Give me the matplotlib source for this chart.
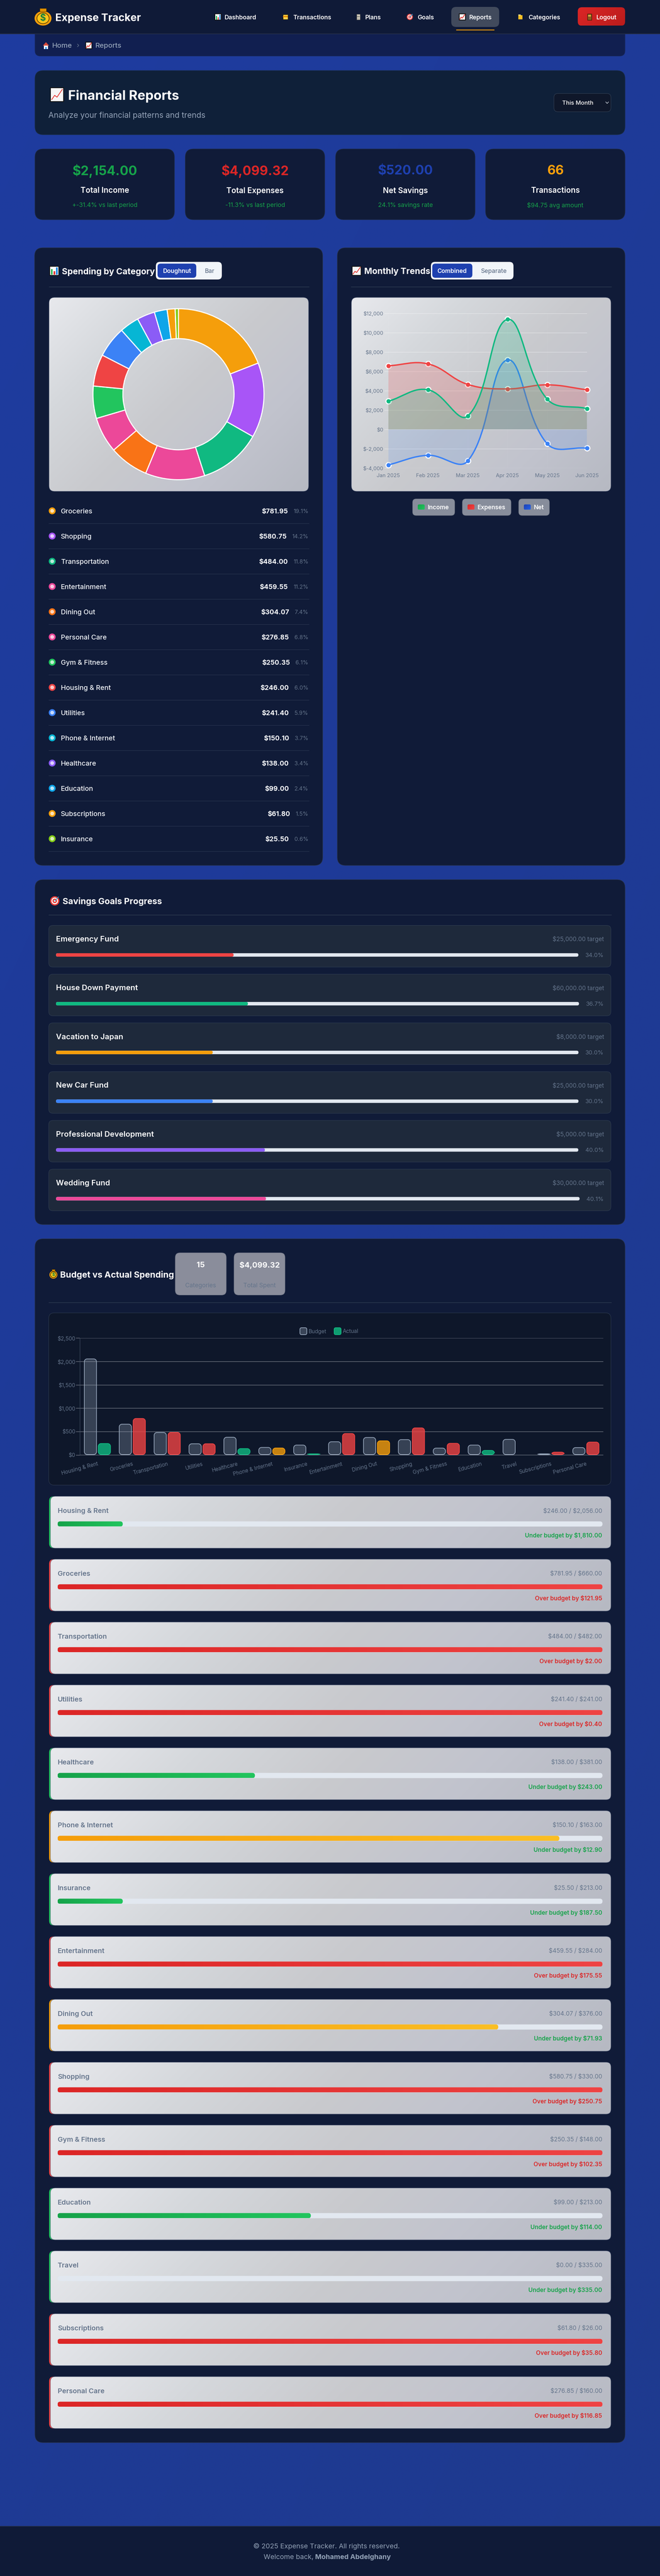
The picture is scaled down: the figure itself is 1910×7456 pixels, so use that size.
import numpy as np
import matplotlib
matplotlib.use('Agg')
import matplotlib.pyplot as plt
from matplotlib.patches import FancyBboxPatch, Circle, Ellipse, Rectangle, Polygon, PathPatch
from matplotlib.path import Path
from matplotlib.colors import to_rgb

plt.rcParams['font.family'] = ['Inter', 'Noto Sans', 'DejaVu Sans']

# ---------------------------------------------------------------- data
nav_items = ['Dashboard', 'Transactions', 'Plans', 'Goals', 'Reports', 'Categories']
stat_values = ['$2,154.00', '$4,099.32', '$520.00', '66']
stat_labels = ['Total Income', 'Total Expenses', 'Net Savings', 'Transactions']
stat_subs = ['+-31.4% vs last period', '-11.3% vs last period', '24.1% savings rate', '$94.75 avg amount']
stat_colors = ['#16a34a', '#dc2626', '#1e40af', '#f59e0b']

share_names = ['Groceries', 'Shopping', 'Transportation', 'Entertainment', 'Dining Out', 'Personal Care',
               'Gym & Fitness', 'Housing & Rent', 'Utilities', 'Phone & Internet', 'Healthcare', 'Education',
               'Subscriptions', 'Insurance']
share_values = [781.95, 580.75, 484.00, 459.55, 304.07, 276.85, 250.35, 246.00, 241.40, 150.10, 138.00, 99.00,
                61.80, 25.50]
share_pcts = ['19.1%', '14.2%', '11.8%', '11.2%', '7.4%', '6.8%', '6.1%', '6.0%', '5.9%', '3.7%', '3.4%', '2.4%',
              '1.5%', '0.6%']
share_colors = ['#f59e0b', '#a855f7', '#10b981', '#ec4899', '#f97316', '#ec4899', '#22c55e', '#ef4444', '#3b82f6',
                '#06b6d4', '#8b5cf6', '#0ea5e9', '#f59e0b', '#84cc16']

months = ['Jan 2025', 'Feb 2025', 'Mar 2025', 'Apr 2025', 'May 2025', 'Jun 2025']
income = [2911, 4098, 1393, 11369, 3136, 2154]
expenses = [6577, 6772, 4654, 4188, 4608, 4099]
net = [-3666, -2674, -3261, 7181, -1472, -1945]
trend_ticks = [-4000, -2000, 0, 2000, 4000, 6000, 8000, 10000, 12000]
trend_tick_labels = ['$-4,000', '$-2,000', '$0', '$2,000', '$4,000', '$6,000', '$8,000', '$10,000', '$12,000']

goal_names = ['Emergency Fund', 'House Down Payment', 'Vacation to Japan', 'New Car Fund',
              'Professional Development', 'Wedding Fund']
goal_targets = ['$25,000.00', '$60,000.00', '$8,000.00', '$25,000.00', '$5,000.00', '$30,000.00']
goal_pcts = [34.0, 36.7, 30.0, 30.0, 40.0, 40.1]
goal_colors = ['#ef4444', '#10b981', '#f59e0b', '#3b82f6', '#8b5cf6', '#ec4899']

budget_names = ['Housing & Rent', 'Groceries', 'Transportation', 'Utilities', 'Healthcare', 'Phone & Internet',
                'Insurance', 'Entertainment', 'Dining Out', 'Shopping', 'Gym & Fitness', 'Education', 'Travel',
                'Subscriptions', 'Personal Care']
budget_spent = [246.00, 781.95, 484.00, 241.40, 138.00, 150.10, 25.50, 459.55, 304.07, 580.75, 250.35, 99.00, 0.00,
                61.80, 276.85]
budget_limit = [2056, 660, 482, 241, 381, 163, 213, 284, 376, 330, 148, 213, 335, 26, 160]
budget_ticks = [0, 500, 1000, 1500, 2000, 2500]
budget_tick_labels = ['$0', '$500', '$1,000', '$1,500', '$2,000', '$2,500']

# ---------------------------------------------------------------- canvas helpers
W, H = 1910, 7456
fig = plt.figure(figsize=(W / 100, H / 100), dpi=100)
bg = fig.add_axes([0, 0, 1, 1])
bg.set_xlim(0, W)
bg.set_ylim(H, 0)
bg.axis('off')
bg.set_autoscale_on(False)
Z = [1]
renderer = fig.canvas.get_renderer()


def nz():
    Z[0] += 1
    return Z[0]


def fit(s, weight, width):
    """font size in pixels at which the string has the given width"""
    t = bg.text(0, 0, s, fontsize=20, fontweight=weight, parse_math=False)
    w = t.get_window_extent(renderer).width
    t.remove()
    return 20 / 0.72 * width / w


def rr(x, y, w, h, r, fc, ec='none', lw=0, alpha=None):
    r = min(r, w / 2, h / 2)
    p = FancyBboxPatch((x + r, y + r), w - 2 * r, h - 2 * r, boxstyle=f'round,pad={r},rounding_size={r}',
                       fc=fc, ec=ec, lw=lw * 0.72, alpha=alpha, zorder=nz())
    bg.add_patch(p)
    return p


def grad(x, y, w, h, r, stops, angle=135, ec='none', lw=0):
    n = 96
    xx, yy = np.meshgrid((np.arange(n) + .5) / n, (np.arange(n) + .5) / n)
    a = np.deg2rad(angle)
    sx, sy = np.sin(a), -np.cos(a)
    L = abs(w * sx) + abs(h * sy)
    t = ((xx - .5) * w * sx + (yy - .5) * h * sy) / L + .5
    cols = np.array([to_rgb(c) for c in stops])
    pos = np.linspace(0, 1, len(stops))
    arr = np.dstack([np.interp(t, pos, cols[:, i]) for i in range(3)])
    clip = rr(x, y, w, h, r, 'none')
    im = bg.imshow(arr, extent=[x, x + w, y + h, y], aspect='auto', interpolation='bilinear', zorder=nz())
    im.set_clip_path(clip)
    if lw:
        rr(x, y, w, h, r, 'none', ec=ec, lw=lw)


def T(x, y, s, px, color, weight='normal', ha='left', va='center_baseline', **kw):
    return bg.text(x, y, s, fontsize=px * 0.72, color=color, fontweight=weight, ha=ha, va=va, zorder=nz(),
                   parse_math=False, **kw)


def text_left(t):
    return t.get_window_extent(renderer).x0


def add(p):
    p.set_zorder(nz())
    bg.add_patch(p)
    return p


# ---------------------------------------------------------------- icons (emoji drawn with patches)
def ic_chart(x, y, s):
    add(Rectangle((x, y), s, s, fc='#ffffff', ec='#111111', lw=1.4))
    for fx, fh, c in [(.14, .62, '#16b34a'), (.42, .4, '#e53935'), (.70, .82, '#1e88e5')]:
        add(Rectangle((x + fx * s, y + s * (.93 - fh)), s * .18, s * fh, fc=c, ec='none'))


def ic_line(x, y, w, h):
    add(Rectangle((x, y), w, h, fc='#f5f5f5', ec='#111111', lw=1.6))
    bg.plot([x + .1 * w, x + .32 * w, x + .5 * w, x + .9 * w], [y + .85 * h, y + .55 * h, y + .68 * h, y + .12 * h],
            color='#e53935', lw=1.6, zorder=nz())


def ic_target(x, y, s):
    c = (x + s / 2, y + s / 2)
    for rad, col in [(.5, '#e53935'), (.36, '#ffffff'), (.24, '#e53935'), (.11, '#ffffff')]:
        add(Circle(c, s * rad, fc=col, ec='none'))
    bg.plot([x + .5 * s, x + .9 * s], [y + .5 * s, y + .08 * s], color='#29a9e0', lw=1.4, zorder=nz())


def ic_bag(x, y, w, h, fs):
    add(Ellipse((x + w / 2, y + h * .58), w, h * .84, fc='#f59e0b', ec='none'))
    add(Ellipse((x + w / 2, y + h * .58), w * .72, h * .62, fc='#fcc419', ec='#4a3200', lw=1.2))
    add(Rectangle((x + w * .3, y), w * .4, h * .2, fc='#e09000', ec='#4a3200', lw=.8))
    T(x + w / 2, y + h * .58, '$', fs, '#15803d', 'bold', ha='center', va='center')


def ic_house(x, y, w, h):
    add(Rectangle((x + .15 * w, y + .45 * h), .7 * w, .55 * h, fc='#ffffff', ec='none'))
    add(Polygon([(x, y + .5 * h), (x + .5 * w, y), (x + w, y + .5 * h)], fc='#d84a3a', ec='none'))
    add(Rectangle((x + .4 * w, y + .68 * h), .2 * w, .32 * h, fc='#1e88e5', ec='none'))


def ic_card(x, y, s):
    add(Rectangle((x + .1 * s, y + .1 * s), .8 * s, .8 * s, fc='#fcd34d', ec='#3a2a00', lw=.8))
    add(Rectangle((x + .1 * s, y + .35 * s), .8 * s, .2 * s, fc='#e58a00', ec='none'))


def ic_clip(x, y, s):
    add(Rectangle((x + .2 * s, y + .06 * s), .6 * s, .9 * s, fc='#e8e2d0', ec='#4a4a4a', lw=.9))
    for f in (.35, .55, .75):
        add(Rectangle((x + .3 * s, y + f * s), .4 * s, .07 * s, fc='#555555', ec='none'))


def ic_folder(x, y, s):
    add(Rectangle((x + .15 * s, y + .2 * s), .7 * s, .7 * s, fc='#fbbf24', ec='none'))
    add(Rectangle((x + .15 * s, y + .1 * s), .4 * s, .18 * s, fc='#fde68a', ec='none'))


def ic_door(x, y, s):
    add(Rectangle((x + .15 * s, y), .7 * s, s, fc='#8a5a1e', ec='#2b1a05', lw=.9))
    add(Rectangle((x + .28 * s, y + .15 * s), .44 * s, .3 * s, fc='#d9a441', ec='none'))


# ---------------------------------------------------------------- page background
grad(0, 0, W, H, 0, ['#1e3ca0', '#1e3a96', '#1f3a8f'], angle=115)

# breadcrumb
px_crumb = fit('Reports', '500', 76)
rr(101, 60, 1708, 102.5, 16, '#111f50', ec='#1b2d66', lw=1)
T(150, 131, 'Home', px_crumb, '#94a3b8', '500')
T(225, 131, '›', px_crumb, '#64748b', ha='center')
T(275, 131, 'Reports', px_crumb, '#94a3b8', '500')
ic_house(124, 122, 18, 20)
ic_line(248, 122, 18, 19)

# navigation
rr(-20, -20, W + 40, 118, 0, '#0f1a37')
bg.plot([0, W], [98, 98], color='#25304a', lw=1.4, zorder=nz())
ic_bag(100, 24, 49, 50, 26)
T(160, 50, 'Expense Tracker', fit('Expense Tracker', 'bold', 248), '#ffffff', 'bold')
rr(1306, 20, 138.6, 58, 14, '#414a5c')
rr(1320, 85.6, 111, 2.4, 1, '#f59e0b')
nav_x = [650, 848, 1057, 1208, 1358, 1529]
px_nav = fit('Transactions', '600', 110.6)
for name, x in zip(nav_items, nav_x):
    T(x, 49, name, px_nav, '#ffffff', '600')
ic_chart(622, 40, 18)
ic_card(817, 40, 18)
ic_clip(1028, 40, 18)
ic_target(1177, 40, 18)
ic_line(1329, 40, 18, 18)
ic_folder(1497, 40, 18)
grad(1672, 21, 137, 53.5, 12, ['#dc2626', '#b91c1c'])
ic_door(1697, 40, 18)
T(1726, 49, 'Logout', px_nav, '#ffffff', '600')

# page header
rr(101, 204, 1708, 186, 24, '#0f2039', ec='#1d3050', lw=1.2)
ic_line(146, 254, 38, 40)
T(197, 274.5, 'Financial Reports', fit('Financial Reports', 'bold', 322), '#ffffff', 'bold')
sub = 'Analyze your financial patterns and trends'
T(140, 332.6, sub, fit(sub, 'normal', 455.6), '#94a3b8')
rr(1603, 270.5, 165, 53, 12, '#0f172a', ec='#334155', lw=1.2)
T(1627, 297, 'This Month', fit('This Month', '500', 90), '#ffffff', '500')
bg.plot([1753, 1757, 1761], [295, 299.5, 295], color='#e2e8f0', lw=1, zorder=nz())

# stat cards
card_x = [101, 536, 971, 1405]
px_sv = fit('$2,154.00', 'bold', 187.6)
px_sl = fit('Total Income', '600', 141)
px_ss = fit('+-31.4% vs last period', 'normal', 189)
for x, v, l, s, c in zip(card_x, stat_values, stat_labels, stat_subs, stat_colors):
    rr(x, 431, 404, 205, 24, '#101b38', ec='#22304f', lw=1.2)
    T(x + 202, 491, v, px_sv, c, 'bold', ha='center')
    T(x + 202, 550, l, px_sl, '#ffffff', '600', ha='center')
    T(x + 202, 592.4, s, px_ss, '#16a34a', ha='center')

# ---------------------------------------------------------------- spending card
px_title = fit('Spending by Category', '700', 270)
px_btn = fit('Doughnut', '600', 82)
px_btn2 = fit('Separate', '500', 75)
rr(100, 717, 834, 1788, 24, '#101b38', ec='#2a3650', lw=1.2)
ic_chart(144, 771, 26)
T(179, 784, 'Spending by Category', px_title, '#ffffff', '700')
rr(451, 758, 191, 51, 12, '#f1f5f9')
rr(456, 763, 112, 41, 9, '#1e40af')
T(512.5, 784, 'Doughnut', px_btn, '#ffffff', '600', ha='center')
T(607, 784, 'Bar', px_btn2, '#64748b', '500', ha='center')
bg.plot([142, 894], [830, 830], color='#334155', lw=1, zorder=nz())
light = ['#e8e9ed', '#d5d8dc', '#c9cace', '#c1c3cd', '#b6b9c2']
grad(142, 861, 751, 561, 16, light, ec='#55607a', lw=1)

R = 247.5
SC = 1.03
dn = fig.add_axes([(516.5 - R * SC) / W, 1 - (1141 + R * SC) / H, 2 * R * SC / W, 2 * R * SC / H], zorder=2)
dn.pie(share_values, colors=share_colors, startangle=90, counterclock=False, radius=1,
       wedgeprops={'width': 0.35, 'edgecolor': 'white', 'linewidth': 2.2})
dn.set_xlim(-SC, SC)
dn.set_ylim(-SC, SC)

px_ln = fit('Transportation', '500', 140)
px_la = fit('$781.95', '700', 75.7)
px_lp = fit('19.1%', 'normal', 43.3)
for i, (name, val, pct, col) in enumerate(zip(share_names, share_values, share_pcts, share_colors)):
    y = 1478.6 + 73 * i
    add(Circle((151, y), 10, fc=col, ec='none'))
    add(Circle((151, y), 5.4, fc='#ffffff', ec='none', alpha=.72))
    T(175.7, y, name, px_ln, '#f1f5f9', '500')
    tp = T(892, y, pct, px_lp, '#64748b', ha='right')
    T(text_left(tp) - 16, y, f'${val:,.2f}', px_la, '#f8fafc', '700', ha='right')
    bg.plot([141, 894], [y + 36.5, y + 36.5], color='#2a3650', lw=.9, zorder=nz())

# ---------------------------------------------------------------- trends card
rr(976, 717, 833, 1788, 24, '#101b38', ec='#2a3650', lw=1.2)
ic_line(1019, 771, 26, 26)
T(1054, 784, 'Monthly Trends', px_title, '#ffffff', '700')
rr(1247, 758, 239, 51, 12, '#f1f5f9')
rr(1251, 763, 116, 41, 9, '#1e40af')
T(1308, 784, 'Combined', px_btn, '#ffffff', '600', ha='center')
T(1429, 784, 'Separate', px_btn2, '#64748b', '500', ha='center')
bg.plot([1016, 1769], [830, 830], color='#334155', lw=1, zorder=nz())
grad(1017, 861, 751, 561, 16, light, ec='#55607a', lw=1)

px_tick = fit('$12,000', 'normal', 57.6)
ax = fig.add_axes([1123.5 / W, 1 - 1355 / H, (1698.5 - 1123.5) / W, (1355 - 906.8) / H], zorder=2)
ax.patch.set_visible(False)
xs = np.arange(len(months))
ax.set_xlim(0, len(months) - 1)
ax.set_ylim(trend_ticks[0], trend_ticks[-1])
ax.set_yticks(trend_ticks, trend_tick_labels)
ax.set_xticks(xs, months)
for s in ax.spines.values():
    s.set_visible(False)
ax.grid(axis='y', color='#ffffff', alpha=.5, lw=.9)
ax.grid(axis='x', color='#ffffff', alpha=.05, lw=.7)
ax.set_axisbelow(True)
ax.tick_params(axis='y', length=8.6, width=.9, color=(1, 1, 1, .5), pad=2, labelcolor='#64748b',
               labelsize=px_tick * .72)
ax.tick_params(axis='x', length=0, pad=11, labelcolor='#64748b', labelsize=px_tick * .72)


def spline(a, yvals, tension=.4):
    """Chart.js style bezier through the data points, built in display space."""
    pts = a.transData.transform(np.column_stack([np.arange(len(yvals)), yvals]))
    verts = [pts[0]]
    codes = [Path.MOVETO]
    ctrl_next = []
    ctrl_prev = []
    for i in range(len(pts)):
        p0 = pts[max(i - 1, 0)]
        p1 = pts[i]
        p2 = pts[min(i + 1, len(pts) - 1)]
        d01 = np.hypot(*(p1 - p0))
        d12 = np.hypot(*(p2 - p1))
        tot = d01 + d12
        s01, s12 = d01 / tot, d12 / tot
        ctrl_prev.append(p1 - tension * s01 * (p2 - p0))
        ctrl_next.append(p1 + tension * s12 * (p2 - p0))
    for i in range(1, len(pts)):
        verts += [ctrl_next[i - 1], ctrl_prev[i], pts[i]]
        codes += [Path.CURVE4] * 3
    inv = a.transData.inverted()
    return inv.transform(np.array(verts)), codes


for series, col, fa in [(net, '#3b82f6', .14), (expenses, '#ef4444', .2), (income, '#10b981', .2)]:
    v, c = spline(ax, series)
    fill_v = np.vstack([v, [[v[-1, 0], 0], [v[0, 0], 0], v[0]]])
    fill_c = c + [Path.LINETO, Path.LINETO, Path.CLOSEPOLY]
    ax.plot(xs, series, ls='none', marker='o', ms=11, mfc=col, mec='#ffffff', mew=2.2, clip_on=False, zorder=3)
    ax.add_patch(PathPatch(Path(v, c), fc='none', ec=col, lw=2.9, zorder=3))
    ax.add_patch(PathPatch(Path(fill_v, fill_c), fc=col, ec='none', alpha=fa, zorder=3))

pill_x = [(1194, 1316, 'Income', ['#16a34a', '#22c55e']), (1338, 1479, 'Expenses', ['#dc2626', '#ef4444']),
          (1501, 1590, 'Net', ['#1e40af', '#2563eb'])]
px_pill = fit('Income', '600', 62)
for x0, x1, lab, cs in pill_x:
    rr(x0, 1444, x1 - x0, 48, 10, '#878d9b', ec='#6b7280', lw=1)
    grad(x0 + 15, 1460, 20, 15.5, 4, cs, angle=135)
    T(x0 + 44, 1468, lab, px_pill, '#ffffff', '600')

# ---------------------------------------------------------------- savings goals
px_gn = fit('Emergency Fund', '600', 182)
px_gt = fit('$25,000.00 target', 'normal', 149)
px_gp = fit('34.0%', 'normal', 53)
rr(101, 2546, 1708, 998.5, 24, '#101b38', ec='#2a3650', lw=1.2)
ic_target(145, 2594, 27)
T(181, 2607.5, 'Savings Goals Progress', fit('Savings Goals Progress', '700', 289), '#ffffff', '700')
bg.plot([141, 1769], [2647.6, 2647.6], color='#334155', lw=1, zorder=nz())
for i, (name, target, pct, col) in enumerate(zip(goal_names, goal_targets, goal_pcts, goal_colors)):
    y = 2678.5 + 141.1 * i
    rr(141, y, 1627, 120.5, 12, '#1e293b', ec='#334155', lw=1)
    T(162, y + 38.5, name, px_gn, '#ffffff', '600')
    T(1748, y + 38.5, f'{target} target', px_gt, '#64748b', ha='right')
    tp = T(1747, y + 85.5, f'{pct:.1f}%', px_gp, '#64748b', ha='right')
    end = text_left(tp) - 20
    rr(162, y + 80.5, end - 162, 10, 5, '#e2e8f0')
    rr(162, y + 80.5, (end - 162) * pct / 100, 10, 5, col)

# ---------------------------------------------------------------- budget card
rr(101, 3585.5, 1708, 3484.5, 24, '#101b38', ec='#2a3650', lw=1.2)
ic_bag(143, 3674, 23, 27, 13)
T(174, 3688, 'Budget vs Actual Spending', fit('Budget vs Actual Spending', '700', 330), '#ffffff', '700')
px_bb = fit('$4,099.32', '700', 116.5)
px_bs = fit('Total Spent', 'normal', 94)
for x, big, small in [(507, '15', 'Categories'), (677, '$4,099.32', 'Total Spent')]:
    rr(x, 3626, 148, 122.5, 14, '#8a8d9b', ec='#5f6678', lw=1)
    T(x + 74, 3660, big, px_bb, '#ffffff', '700', ha='center')
    T(x + 74, 3719, small, px_bs, '#64748b', ha='center')
bg.plot([141, 1769], [3769.6, 3769.6], color='#334155', lw=1, zorder=nz())
rr(141, 3800, 1627, 498.5, 16, '#0e172a', ec='#334155', lw=1)

px_leg = fit('Budget', 'normal', 52)
rr(868, 3843, 20, 20, 5, '#3a4558', ec='#94a3b8', lw=2)
T(893, 3852.5, 'Budget', px_leg, '#64748b')
rr(967, 3843, 20, 20, 5, '#0f9c70', ec='#10b981', lw=2)
T(991.5, 3852.5, 'Actual', px_leg, '#64748b')

px_bt = fit('$2,500', 'normal', 52)
px_bl = fit('Housing & Rent', 'normal', 110)
bx = fig.add_axes([231.4 / W, 1 - 4211.5 / H, (1746 - 231.4) / W, (4211.5 - 3873.2) / H], zorder=2)
bx.patch.set_visible(False)
n = len(budget_names)
bx.set_xlim(-.5, n - .5)
bx.set_ylim(budget_ticks[0], budget_ticks[-1])
bx.set_yticks(budget_ticks, budget_tick_labels)
bx.set_xticks(np.arange(n), budget_names)
for s in ('top', 'right', 'bottom'):
    bx.spines[s].set_visible(False)
bx.spines['left'].set_color('#475569')
bx.spines['left'].set_linewidth(.8)
bx.grid(axis='y', color='#6f7682', lw=1.1)
bx.set_axisbelow(True)
bx.axhline(0, color='#9aa1ad', lw=1.4, zorder=1.5)
bx.tick_params(axis='y', length=7.8, width=1.1, color='#6f7682', pad=2, labelcolor='#64748b', labelsize=px_bt * .72)
bx.tick_params(axis='x', length=0, pad=13, labelcolor='#64748b', labelsize=px_bl * .72)
plt.setp(bx.get_xticklabels(), rotation=15, ha='right', va='top', rotation_mode='anchor')

sx = (n) / (1746 - 231.4)
sy = (budget_ticks[-1] - budget_ticks[0]) / (4211.5 - 3873.2)


def round_bar(a, xc, w, v, fc, ec, alpha):
    if v <= 0:
        return
    rx = min(8 * sx, w / 2)
    ry = min(8 * sy, v / 2)
    x0, x1 = xc - w / 2, xc + w / 2
    k = .45
    base = 1.5 * sy
    verts = [(x0 + rx, base), (x1 - rx, base), (x1 - rx * k, base), (x1, base + ry * k), (x1, base + ry),
             (x1, v - ry), (x1, v - ry * k), (x1 - rx * k, v), (x1 - rx, v), (x0 + rx, v), (x0 + rx * k, v),
             (x0, v - ry * k), (x0, v - ry), (x0, base + ry), (x0, base + ry * k), (x0 + rx * k, base),
             (x0 + rx, base), (x0 + rx, base)]
    codes = [Path.MOVETO, Path.LINETO] + [Path.CURVE4] * 3 + [Path.LINETO] + [Path.CURVE4] * 3 + [Path.LINETO] + \
            [Path.CURVE4] * 3 + [Path.LINETO] + [Path.CURVE4] * 3 + [Path.CLOSEPOLY]
    r, g, b = to_rgb(fc)
    a.add_patch(PathPatch(Path(verts, codes), fc=(r, g, b, alpha), ec=ec, lw=1.45, zorder=3, clip_on=False))


def status_color(spent, limit):
    ratio = spent / limit
    if ratio > 1:
        return '#ef4444'
    if ratio >= .8:
        return '#f59e0b'
    return '#10b981'


for i, (sp, lim) in enumerate(zip(budget_spent, budget_limit)):
    round_bar(bx, i - .2, .35, lim, '#94a3b8', '#94a3b8', .3)
    c = status_color(sp, lim)
    round_bar(bx, i + .2, .35, sp, c, c, .8)

# budget items
GRADS = {'#ef4444': ['#dc2626', '#ef4444'], '#f59e0b': ['#f59e0b', '#fbbf24'], '#10b981': ['#16a34a', '#22c55e']}
EDGE = {'#ef4444': '#ef4444', '#f59e0b': '#f59e0b', '#10b981': '#22c55e'}
px_in = fit('Housing & Rent', '600', 147)
px_iv = fit('$246.00 / $2,056.00', 'normal', 171)
px_iu = fit('Under budget by $1,810.00', '600', 224)
for i, (name, sp, lim) in enumerate(zip(budget_names, budget_spent, budget_limit)):
    y = 4331 + 182 * i
    c = status_color(sp, lim)
    rr(142, y, 40, 150, 14, EDGE[c])
    grad(146, y, 1622, 150, 14, light, ec='#55607a', lw=1)
    T(166.6, y + 41, name, px_in, '#64748b', '600')
    T(1742.6, y + 41, f'${sp:,.2f} / ${lim:,.2f}', px_iv, '#64748b', ha='right')
    rr(166.6, y + 72.5, 1577, 15, 7.5, '#e2e8f0')
    frac = min(sp / lim, 1)
    if frac > 0:
        grad(166.6, y + 72.5, 1577 * frac, 15, 7.5, GRADS[c], angle=90)
    diff = sp - lim
    txt = f'Over budget by ${diff:,.2f}' if diff > 0 else f'Under budget by ${-diff:,.2f}'
    T(1742.6, y + 111, txt, px_iu, '#dc2626' if diff > 0 else '#16a34a', '600', ha='right')

# ---------------------------------------------------------------- footer
rr(-20, 7312, W + 40, 200, 0, '#0f1a37')
bg.plot([0, W], [7312, 7312], color='#25304a', lw=1.2, zorder=nz())
foot = '© 2025 Expense Tracker. All rights reserved.'
px_f = fit(foot, 'normal', 424)
T(945, 7368.6, foot, px_f, '#94a3b8', ha='center')
tn = T(1131, 7400, 'Mohamed Abdelghany', px_f, '#94a3b8', 'bold', ha='right')
T(text_left(tn) - 5, 7400, 'Welcome back,', px_f, '#94a3b8', ha='right')

fig.savefig('out.png', dpi=100)
